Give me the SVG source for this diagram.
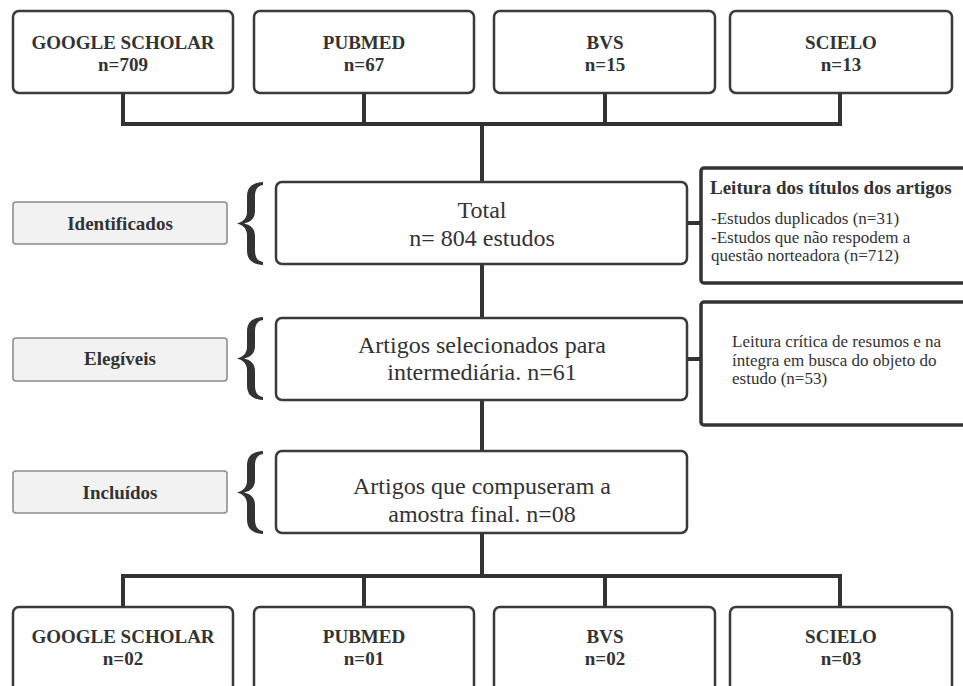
<svg xmlns="http://www.w3.org/2000/svg" width="963" height="686" viewBox="0 0 963 686">
<defs>
<style>
.box{fill:#fefefe;stroke:#3a3a3a;stroke-width:2.5}
.side{fill:#fefefe;stroke:#333;stroke-width:3.5}
.lab{fill:#f2f2f2;stroke:#8a8a8a;stroke-width:1.5}
.conn{stroke:#333;stroke-width:4;fill:none}
.db{font-family:"Liberation Serif","Times New Roman",serif;font-weight:bold;font-size:19px;fill:#333;text-anchor:middle}
.big{font-family:"Liberation Serif","Times New Roman",serif;font-size:24px;fill:#333;text-anchor:middle}
.sm{font-family:"Liberation Serif","Times New Roman",serif;font-size:17px;fill:#333}
.brace{fill:#333}
</style>
<path id="brace" d="M26,0 C14,1 10,6 10,15 L10,30 C10,36 6,40 0,41.5 C6,43 10,47 10,53 L10,68 C10,77 14,82 26,83 L26,80 C20,79 18,75 18,68 L18,54 C18,47 14,43 7,41.5 C14,40 18,36 18,29 L18,15 C18,8 20,4 26,3 Z"/>
</defs>
<rect width="963" height="686" fill="#ffffff"/>
<g id="connectors">
<path class="conn" d="M123,93 V124 M364,93 V124 M605,93 V124 M840,93 V124 M121,124 H842 M482,124 V182"/>
<path class="conn" d="M482,264 V318 M482,400 V451 M482,533 V576"/>
<path class="conn" d="M121,576 H842 M123,576 V607 M364,576 V607 M605,576 V607 M840,576 V607"/>
<path class="conn" d="M687,223 H701 M687,359 H701"/>
</g>
<g id="src-google"><rect class="box" x="13" y="11" width="220" height="82" rx="6"/><text class="db" x="123" y="49">GOOGLE SCHOLAR</text><text class="db" x="123" y="71">n=709</text></g>
<g id="src-pubmed"><rect class="box" x="254" y="11" width="220" height="82" rx="6"/><text class="db" x="364" y="49">PUBMED</text><text class="db" x="364" y="71">n=67</text></g>
<g id="src-bvs"><rect class="box" x="494" y="11" width="221" height="82" rx="6"/><text class="db" x="605" y="49">BVS</text><text class="db" x="605" y="71">n=15</text></g>
<g id="src-scielo"><rect class="box" x="730" y="11" width="222" height="82" rx="6"/><text class="db" x="841" y="49">SCIELO</text><text class="db" x="841" y="71">n=13</text></g>

<g id="label-identificados"><rect class="lab" x="13" y="202" width="214" height="42" rx="3"/><text class="db" x="120" y="230">Identificados</text><use href="#brace" class="brace" x="237" y="182"/></g>
<g id="label-elegiveis"><rect class="lab" x="13" y="338" width="214" height="43" rx="3"/><text class="db" x="120" y="365">Elegíveis</text><use href="#brace" class="brace" x="237" y="317"/></g>
<g id="label-incluidos"><rect class="lab" x="13" y="471" width="214" height="42" rx="3"/><text class="db" x="120" y="499">Incluídos</text><use href="#brace" class="brace" x="237" y="451"/></g>

<g id="total"><rect class="box" x="276" y="182" width="411" height="82" rx="6"/><text class="big" x="482" y="218">Total</text><text class="big" x="482" y="246">n= 804 estudos</text></g>
<g id="elegiveis"><rect class="box" x="276" y="318" width="411" height="82" rx="6"/><text class="big" x="482" y="353">Artigos selecionados para</text><text class="big" x="482" y="380">intermediária. n=61</text></g>
<g id="incluidos"><rect class="box" x="276" y="451" width="411" height="82" rx="6"/><text class="big" x="482" y="494">Artigos que compuseram a</text><text class="big" x="482" y="522">amostra final. n=08</text></g>

<g id="excl-titulos"><rect class="side" x="701" y="168" width="280" height="115" rx="3"/>
<text class="db" x="710" y="194" style="text-anchor:start">Leitura dos títulos dos artigos</text>
<text class="sm" x="711" y="224">-Estudos duplicados (n=31)</text>
<text class="sm" x="711" y="242.5">-Estudos que não respodem a</text>
<text class="sm" x="711" y="261">questão norteadora (n=712)</text></g>
<g id="excl-resumos"><rect class="side" x="701" y="302" width="280" height="123" rx="3"/>
<text class="sm" x="732" y="347">Leitura crítica de resumos e na</text>
<text class="sm" x="732" y="365.5">íntegra em busca do objeto do</text>
<text class="sm" x="732" y="384">estudo (n=53)</text></g>

<g id="fin-google"><rect class="box" x="13" y="607" width="220" height="90" rx="6"/><text class="db" x="123" y="643">GOOGLE SCHOLAR</text><text class="db" x="123" y="665">n=02</text></g>
<g id="fin-pubmed"><rect class="box" x="254" y="607" width="220" height="90" rx="6"/><text class="db" x="364" y="643">PUBMED</text><text class="db" x="364" y="665">n=01</text></g>
<g id="fin-bvs"><rect class="box" x="494" y="607" width="221" height="90" rx="6"/><text class="db" x="605" y="643">BVS</text><text class="db" x="605" y="665">n=02</text></g>
<g id="fin-scielo"><rect class="box" x="730" y="607" width="222" height="90" rx="6"/><text class="db" x="841" y="643">SCIELO</text><text class="db" x="841" y="665">n=03</text></g>
</svg>
